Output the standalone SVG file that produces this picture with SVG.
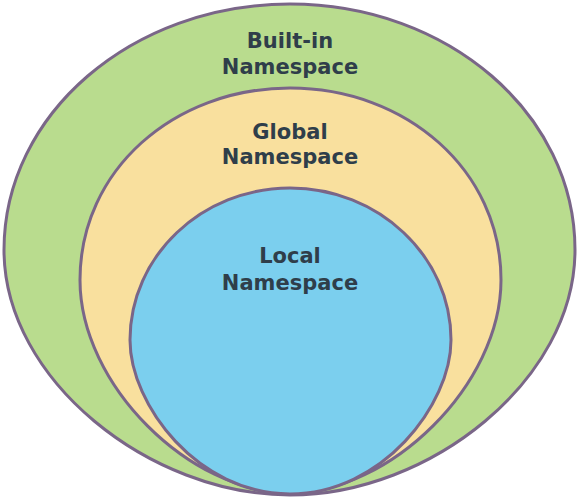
<svg xmlns="http://www.w3.org/2000/svg" width="577" height="500" viewBox="0 0 577 500">
<style>
.ring{stroke:#7a6688;stroke-width:3}
.lbl{font-family:"DejaVu Sans",Verdana,sans-serif;font-weight:bold;font-size:21px;fill:#2f3e4a;text-anchor:middle}
</style>
<rect width="577" height="500" fill="#ffffff"/>
<g id="builtin">
<path class="ring" fill="#b9dc8e" d="M290,4 C132,4 4,114 4,250 C4,380 150,495 290,495 C430,495 575,380 575,250 C575,114 448,4 290,4 Z"/>
<text class="lbl" x="290" y="48">Built-in</text>
<text class="lbl" x="290" y="74">Namespace</text>
</g>
<g id="global">
<path class="ring" fill="#f9e09e" d="M290,88 C174,88 80,170 80,280 C80,385 190,493 290,493 C390,493 501,385 501,280 C501,170 406,88 290,88 Z"/>
<text class="lbl" x="290" y="139">Global</text>
<text class="lbl" x="290" y="164">Namespace</text>
</g>
<g id="local">
<path class="ring" fill="#7bcfee" d="M290,188 C202,188 130,256 130,340 C130,405 198,494 290,494 C382,494 451,405 451,340 C451,256 378,188 290,188 Z"/>
<text class="lbl" x="290" y="263">Local</text>
<text class="lbl" x="290" y="290">Namespace</text>
</g>
<g id="connectors"/>
</svg>
